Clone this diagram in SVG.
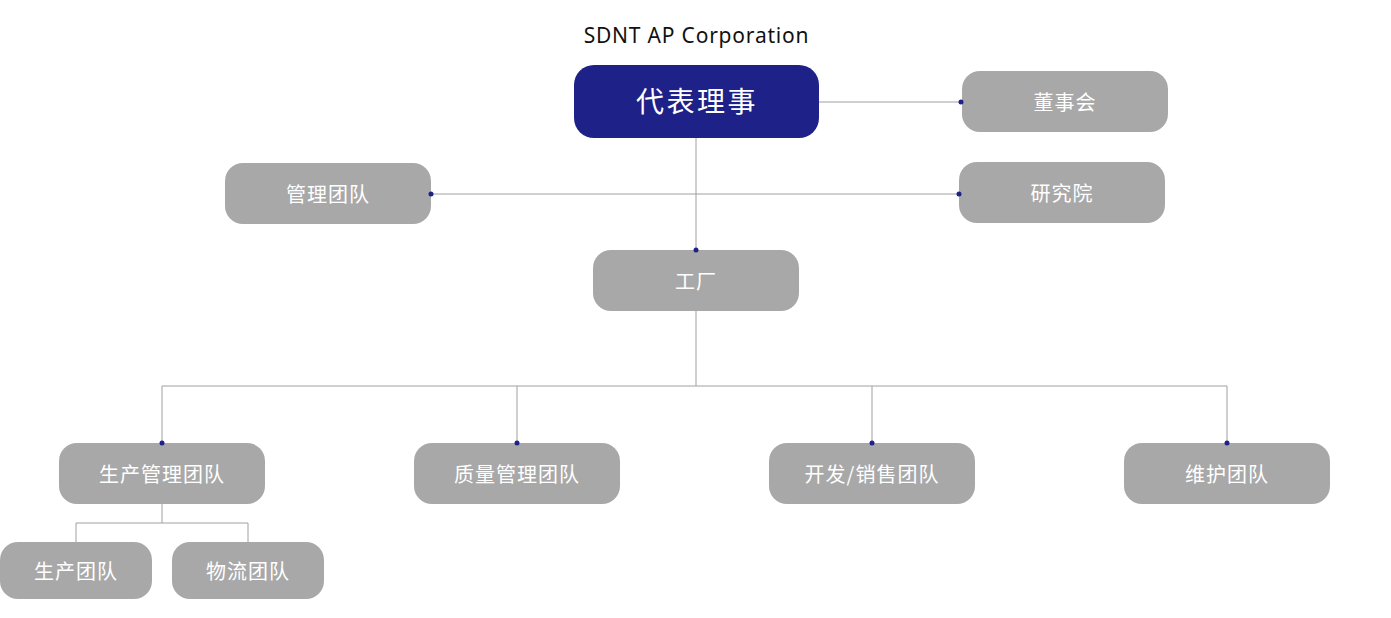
<svg xmlns="http://www.w3.org/2000/svg" width="1391" height="618" viewBox="0 0 1391 618">
<style>
.box{fill:#a8a8a8}
.lbl{font-family:"Noto Sans CJK SC","Noto Sans",sans-serif;font-size:20px;fill:#ffffff;text-anchor:middle;letter-spacing:1px}
.ln{stroke:#a0a0a0;stroke-width:1;fill:none}
.dot{fill:#1e2187}
</style>
<rect width="1391" height="618" fill="#ffffff"/>
<text x="696.5" y="43" font-family="'Noto Sans','Open Sans',sans-serif" font-size="21" fill="#111" text-anchor="middle" letter-spacing="0.8">SDNT AP Corporation</text>
<g id="ceo"><rect x="574" y="65" width="245" height="73" rx="20" fill="#1e2187"/><text x="697" y="112" class="lbl" style="font-size:28px;letter-spacing:2.5px">代表理事</text></g>
<g id="board"><rect class="box" x="962" y="71" width="206" height="61" rx="18"/><text x="1065" y="110" class="lbl">董事会</text></g>
<g id="mgmt"><rect class="box" x="225" y="163" width="206" height="61" rx="18"/><text x="328" y="202" class="lbl">管理团队</text></g>
<g id="research"><rect class="box" x="959" y="162" width="206" height="61" rx="18"/><text x="1062" y="201" class="lbl">研究院</text></g>
<g id="factory"><rect class="box" x="593" y="250" width="206" height="61" rx="18"/><text x="696" y="289" class="lbl">工厂</text></g>
<g id="prodmgmt"><rect class="box" x="59" y="443" width="206" height="61" rx="18"/><text x="162" y="482" class="lbl">生产管理团队</text></g>
<g id="quality"><rect class="box" x="414" y="443" width="206" height="61" rx="18"/><text x="517" y="482" class="lbl">质量管理团队</text></g>
<g id="devsales"><rect class="box" x="769" y="443" width="206" height="61" rx="18"/><text x="872" y="482" class="lbl">开发/销售团队</text></g>
<g id="maint"><rect class="box" x="1124" y="443" width="206" height="61" rx="18"/><text x="1227" y="482" class="lbl">维护团队</text></g>
<g id="prod"><rect class="box" x="0" y="542" width="152" height="57" rx="18"/><text x="76" y="579" class="lbl">生产团队</text></g>
<g id="logistics"><rect class="box" x="172" y="542" width="152" height="57" rx="18"/><text x="248" y="579" class="lbl">物流团队</text></g>
<g id="connectors">
<path class="ln" d="M819 102H961M696 138V250M431 194H959M696 311V386M162 386H1227M162 386V443M517 386V443M872 386V443M1227 386V443M162 504V523M76 523H248M76 523V542M248 523V542"/>
<circle class="dot" cx="961" cy="102" r="2.5"/>
<circle class="dot" cx="696" cy="250" r="2.5"/>
<circle class="dot" cx="431" cy="194" r="2.5"/>
<circle class="dot" cx="959" cy="194" r="2.5"/>
<circle class="dot" cx="162" cy="443" r="2.5"/>
<circle class="dot" cx="517" cy="443" r="2.5"/>
<circle class="dot" cx="872" cy="443" r="2.5"/>
<circle class="dot" cx="1227" cy="443" r="2.5"/>
</g>
</svg>
